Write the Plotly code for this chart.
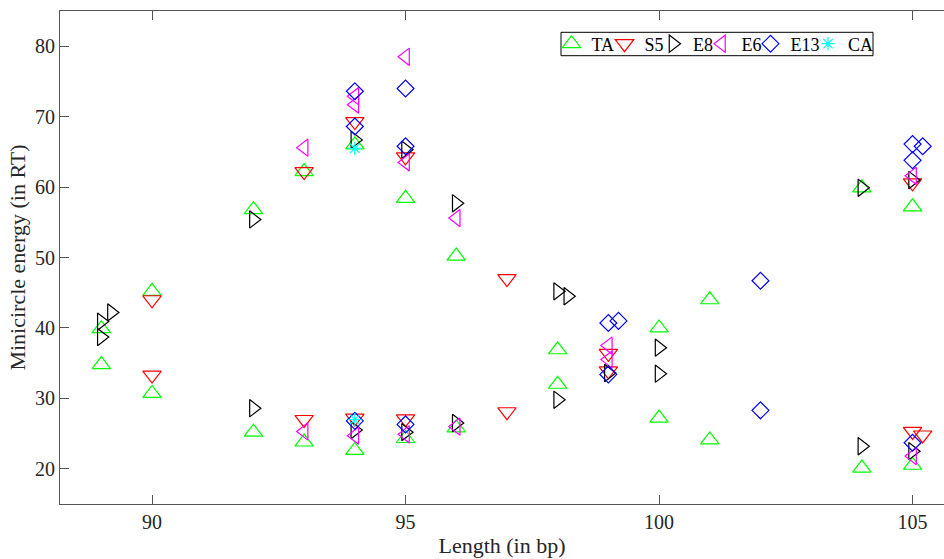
import plotly.graph_objects as go

# Minicircle energy versus length, one series per sequence set
ta_x = [89, 89, 90, 90, 92, 92, 93, 93, 94, 94, 95, 95, 96, 96, 98, 98,
        100, 100, 101, 101, 104, 104, 105, 105]
ta_y = [34.8, 39.9, 45.2, 30.7, 56.8, 25.2, 62.2, 23.8, 66.0, 22.6, 58.4, 24.3,
        50.2, 25.8, 36.9, 32.0, 40.0, 27.2, 44.0, 24.1, 59.9, 20.1, 57.2, 20.5]

s5_x = [90, 90, 93, 93, 94, 94, 95, 95, 97, 97, 99, 99, 105, 105, 105.2]
s5_y = [44.0, 33.3, 62.2, 27.0, 69.3, 27.2, 64.3, 27.1, 47.0, 28.1, 36.4, 33.9,
        60.6, 25.3, 24.8]

e8_x = [89, 89, 89.2, 92, 92, 94, 94, 95, 95, 96, 96, 98, 98.2, 98, 99,
        100, 100, 104, 104, 105, 105]
e8_y = [38.7, 40.9, 42.2, 55.4, 28.6, 66.7, 25.5, 65.3, 25.2, 57.7, 26.5,
        45.2, 44.5, 29.8, 33.6, 37.2, 33.5, 59.9, 23.2, 61.0, 22.5]

e6_x = [93, 93, 94, 94, 94, 95, 95, 95, 96, 96, 99, 99, 105, 105]
e6_y = [65.6, 25.3, 72.9, 71.7, 24.7, 78.5, 63.5, 24.9, 55.6, 26.0, 37.5, 35.5,
        61.6, 21.8]

e13_x = [94, 94, 94, 95, 95, 95, 99, 99.2, 99, 102, 102, 105, 105.2, 105, 105]
e13_y = [73.6, 68.6, 26.8, 74.0, 65.8, 26.3, 40.7, 41.0, 33.4, 46.7, 28.3,
         66.1, 65.8, 63.8, 23.7]

ca_x = [94, 94]
ca_y = [65.5, 27.0]

series = [
    ("TA", ta_x, ta_y, "triangle-up-open", "#00ff00", 16),
    ("S5", s5_x, s5_y, "triangle-down-open", "#ff0000", 16),
    ("E8", e8_x, e8_y, "triangle-right-open", "#000000", 15),
    ("E6", e6_x, e6_y, "triangle-left-open", "#ff00ff", 15),
    ("E13", e13_x, e13_y, "diamond-open", "#0000ff", 13),
    ("CA", ca_x, ca_y, "asterisk-open", "#00ffff", 11),
]

W, H = 944, 559
M_L, M_R, M_T, M_B = 60, 0, 11, 55
PLOT_W = W - M_L - M_R
PLOT_H = H - M_T - M_B
FONT = "Liberation Serif, Times New Roman, Times, serif"
AXIS_COLOR = "#555555"


def px_to_paper_x(px):
    return (px - M_L) / PLOT_W


def px_to_paper_y(py):
    return (H - M_B - py) / PLOT_H


# one single-entry legend per series, laid out in a row inside a common frame
legend_left_px = [551.5, 604.5, 653.0, 701.5, 750.5, 808.0]
legend_mid_px = 44.0

fig = go.Figure()
legend_layout = {}
for i, ((name, xs, ys, sym, col, size), lx) in enumerate(zip(series, legend_left_px)):
    key = "legend" if i == 0 else f"legend{i + 1}"
    fig.add_trace(go.Scatter(
        x=xs, y=ys, mode="markers", name=name, legend=key,
        marker=dict(symbol=sym, size=size, color=col,
                    line=dict(color=col, width=1.2)),
    ))
    legend_layout[key] = dict(
        xref="paper", yref="paper",
        x=px_to_paper_x(lx), y=px_to_paper_y(legend_mid_px),
        xanchor="left", yanchor="middle",
        bgcolor="rgba(0,0,0,0)", borderwidth=0,
        font=dict(family=FONT, size=18, color="black"),
        itemwidth=30,
    )

fig.update_layout(
    width=W, height=H,
    margin=dict(l=M_L, r=M_R, t=M_T, b=M_B, autoexpand=False),
    plot_bgcolor="white", paper_bgcolor="white",
    font=dict(family=FONT, size=20, color="#262626"),
    showlegend=True,
    **legend_layout,
)

# legend frame
fig.add_shape(
    type="rect", xref="paper", yref="paper", layer="above",
    x0=px_to_paper_x(561), x1=px_to_paper_x(873),
    y0=px_to_paper_y(55.7), y1=px_to_paper_y(32.3),
    line=dict(color="black", width=1), fillcolor="white",
)

fig.update_xaxes(
    range=[88.185, 105.62], tickvals=[90, 95, 100, 105],
    showgrid=False, zeroline=False,
    showline=True, linecolor=AXIS_COLOR, linewidth=1, mirror="ticks",
    ticks="inside", ticklen=9, tickcolor=AXIS_COLOR,
    title=dict(text="Length (in bp)", font=dict(size=22), standoff=5),
)
fig.update_yaxes(
    range=[15, 85], tickvals=[20, 30, 40, 50, 60, 70, 80],
    showgrid=False, zeroline=False,
    showline=True, linecolor=AXIS_COLOR, linewidth=1,
    ticks="inside", ticklen=9, tickcolor=AXIS_COLOR,
    title=dict(text="Minicircle energy (in RT)", font=dict(size=22), standoff=3),
)

fig.write_html("out.html")
